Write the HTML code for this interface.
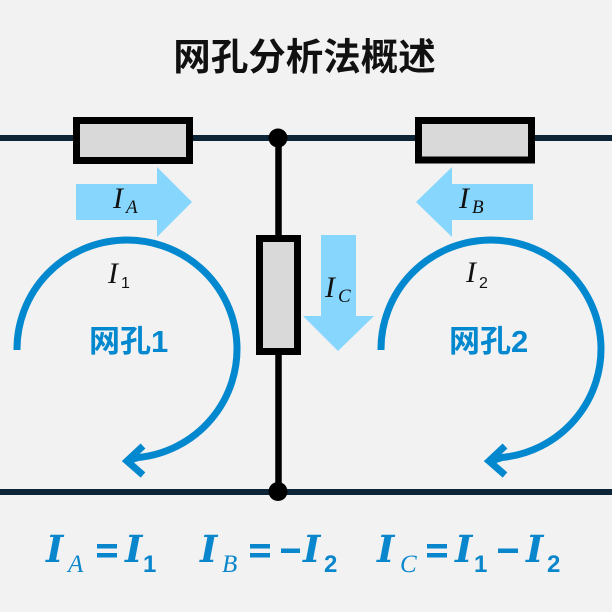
<!DOCTYPE html>
<html><head><meta charset="utf-8"><style>
html,body{margin:0;padding:0;background:#f2f2f2;}
svg{display:block;}
</style></head><body>
<svg width="612" height="612" viewBox="0 0 612 612" xmlns="http://www.w3.org/2000/svg">
<rect width="612" height="612" fill="#f2f2f2"/>
<text x="304.5" y="70" text-anchor="middle" font-family="Liberation Sans, Noto Sans CJK SC, sans-serif" font-weight="bold" font-size="37.5" fill="#111">网孔分析法概述</text>
<!-- wires -->
<line x1="0" y1="138" x2="612" y2="138" stroke="#0d2536" stroke-width="6"/>
<line x1="0" y1="492" x2="612" y2="492" stroke="#0d2536" stroke-width="6"/>
<line x1="278.5" y1="138" x2="278.5" y2="492" stroke="#000" stroke-width="6.5"/>
<circle cx="278" cy="138" r="9.5" fill="#000"/>
<circle cx="278" cy="491.5" r="9.5" fill="#000"/>
<!-- resistors -->
<rect x="76.5" y="120.5" width="113" height="40" fill="#d9d9d9" stroke="#000" stroke-width="7"/>
<rect x="418.5" y="120.5" width="113" height="39.5" fill="#d9d9d9" stroke="#000" stroke-width="7"/>
<rect x="259.5" y="238.5" width="38" height="113" fill="#d9d9d9" stroke="#000" stroke-width="7"/>
<!-- current arrows -->
<polygon points="76,184 157,184 157,167 192,202 157,237 157,220 76,220" fill="#86d6fe"/>
<polygon points="533,184 452,184 452,167 416,202 452,237 452,220 533,220" fill="#86d6fe"/>
<polygon points="321,235 356,235 356,316 374,316 338,351 303,316 321,316" fill="#86d6fe"/>
<!-- mesh arcs -->
<g fill="none" stroke="#0288cf" stroke-width="7">
<path d="M 17 350 A 110 109 0 1 1 138 457.5 L 130 460"/>
<polyline points="143,446 127,461 143,475" stroke-linejoin="miter"/>
<path d="M 381 350 A 110 109 0 1 1 502 457.5 L 494 460"/>
<polyline points="505,446 489,461 505,475" stroke-linejoin="miter"/>
</g>
<!-- labels -->
<g font-family="Liberation Serif, serif" font-style="italic" fill="#111">
<text x="113" y="208" font-size="30">I</text><text x="126" y="213" font-size="19">A</text>
<text x="459" y="208" font-size="30">I</text><text x="472" y="213" font-size="19">B</text>
<text x="325" y="297" font-size="30">I</text><text x="338" y="302" font-size="19">C</text>
<text x="108" y="283" font-size="30">I</text>
<text x="466" y="282" font-size="30">I</text>
</g>
<g font-family="Liberation Sans, sans-serif" fill="#111" font-size="16">
<text x="121" y="288">1</text>
<text x="479" y="288">2</text>
</g>
<g font-family="Liberation Sans, Noto Sans CJK SC, sans-serif" font-weight="bold" font-size="31" fill="#0288cf">
<text x="89" y="352">网孔1</text>
<text x="449" y="352">网孔2</text>
</g>
<!-- formulas -->
<g fill="#0a86cc">
<g font-family="DejaVu Serif, serif" font-style="italic" font-weight="bold" font-size="37">
<text x="46" y="562">I</text>
<text x="125" y="562">I</text>
<text x="200" y="562">I</text>
<text x="303" y="562">I</text>
<text x="377" y="562">I</text>
<text x="455" y="562">I</text>
<text x="526" y="562">I</text>
</g>
<g font-family="Liberation Serif, serif" font-style="italic" font-size="25">
<text x="68" y="572">A</text>
<text x="222" y="572">B</text>
<text x="400" y="572">C</text>
</g>
<g font-family="Liberation Sans, sans-serif" font-weight="bold" font-size="24">
<text x="143" y="572">1</text>
<text x="324" y="572">2</text>
<text x="474" y="572">1</text>
<text x="547" y="572">2</text>
</g>
<g>
<rect x="97" y="544" width="20" height="4.5"/><rect x="97" y="553" width="20" height="4.5"/>
<rect x="250" y="544" width="20" height="4.5"/><rect x="250" y="553" width="20" height="4.5"/>
<rect x="427" y="544" width="20" height="4.5"/><rect x="427" y="553" width="20" height="4.5"/>
<rect x="281" y="548.5" width="19" height="4.5"/>
<rect x="498" y="548.5" width="20" height="4.5"/>
</g>
</g>
</svg>
</body></html>
